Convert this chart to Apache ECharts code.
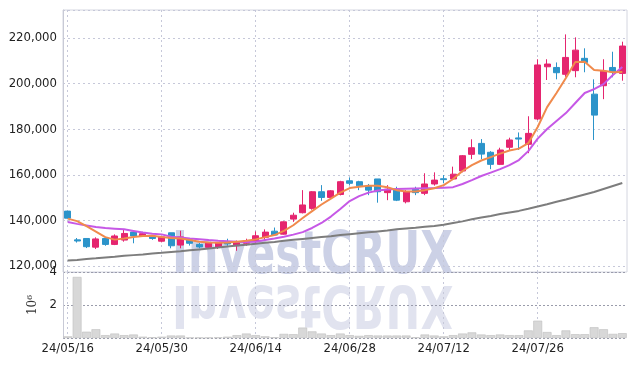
<!DOCTYPE html>
<html><head><meta charset="utf-8">
<script src="https://cdn.jsdelivr.net/npm/echarts@6/dist/echarts.min.js"></script>
<style>html,body{margin:0;padding:0;background:#fff}#c{width:636px;height:366px}</style>
</head><body><div id="c"></div>
<script>
const dates = ['24/05/16','24/05/17','24/05/20','24/05/21','24/05/22','24/05/23','24/05/24','24/05/27','24/05/28','24/05/29',
'24/05/30','24/05/31','24/06/03','24/06/04','24/06/05','24/06/07','24/06/10','24/06/11','24/06/12','24/06/13',
'24/06/14','24/06/17','24/06/18','24/06/19','24/06/20','24/06/21','24/06/24','24/06/25','24/06/26','24/06/27',
'24/06/28','24/07/01','24/07/02','24/07/03','24/07/04','24/07/05','24/07/08','24/07/09','24/07/10','24/07/11',
'24/07/12','24/07/15','24/07/16','24/07/17','24/07/18','24/07/19','24/07/22','24/07/23','24/07/24','24/07/25',
'24/07/26','24/07/29','24/07/30','24/07/31','24/08/01','24/08/02','24/08/05','24/08/06','24/08/07','24/08/08'];

const open = [144100,131500,132100,128300,132100,129500,131400,134900,133200,133200,
130900,134600,129200,131500,129500,128200,128200,130700,128900,130000,
131000,132600,135300,134000,140600,143400,145300,152600,150100,151400,
157400,157000,155100,158200,152200,153700,148200,153700,151900,156000,
158300,158200,161700,169000,173800,169900,164600,172100,176200,173400,
184500,207400,207100,204100,205700,211100,195400,199100,207100,204500];
const close = [141000,131000,128500,131900,129500,133200,134300,133200,134200,132100,
132800,128900,132800,130000,128400,130200,130200,129700,130700,130400,
133300,134900,133600,139400,142300,146800,152600,150100,153000,157000,
156300,155200,153300,152600,153700,148900,152600,152200,156000,157700,
157900,160300,168400,171900,169100,164600,170900,175300,175700,178200,
208200,208600,204800,211500,214700,209300,186200,205500,205200,216500];
const low = [140800,130300,127900,127500,128900,129200,130700,130000,132800,131500,
130400,127800,127800,129000,127800,128000,127500,128900,126700,128900,
129700,131400,133200,133800,139400,143100,144700,148600,149800,151000,
155500,153300,151100,147800,148900,148500,147500,151100,151100,155300,
156300,157700,161100,166900,166900,162500,164300,170900,170900,169500,
184000,201600,201900,203000,202800,205000,175300,193200,202800,201300];
const high = [144200,132300,132100,132600,132100,133900,135800,134900,135000,133600,
133200,134600,135500,132000,130200,130400,130400,132000,131200,132000,
135200,136100,136900,139600,143400,153300,152900,155500,153300,157400,
158900,157400,156000,158200,155500,154800,153300,154800,160700,161100,
159900,163600,168700,175600,175700,170400,171900,176300,178600,185700,
210700,210700,209300,221600,220300,215500,201900,210700,214000,218400];

const maShort = [140800,139700,137500,135100,132700,131600,132100,132700,133200,133300,
132700,132300,132100,131400,130700,130300,130200,130300,130700,131100,
131700,132700,133600,135400,137900,141100,144100,147000,149600,152200,
154200,154800,155200,155200,154600,153300,152700,152700,153300,154100,
155500,158200,161700,164300,166300,167800,169300,170700,171500,173900,
181000,189700,195900,202500,209500,209600,206000,205700,205000,205100];
const maMid = [139300,138500,137800,137100,136700,136400,136100,135400,134700,134200,
133900,132900,132500,132100,131800,131400,131100,130900,130700,130600,
130700,131400,132100,132900,133800,134900,136700,138900,141700,145000,
148500,150700,152200,153100,153600,153800,153900,154000,154100,154200,
154400,154600,156000,157700,159500,161000,162500,164300,166500,170400,
175900,180100,183600,187100,191500,195900,197600,199800,203800,207300];
const maLong = [122400,122700,123100,123400,123800,124100,124500,124800,125100,125500,
125800,126200,126500,126900,127300,127700,128100,128600,129000,129400,
129800,130200,130600,131100,131500,131900,132300,132700,133100,133600,
134000,134400,134800,135200,135600,136100,136500,136800,137200,137600,
138100,138900,139600,140500,141300,142000,142800,143500,144200,145100,
146100,147100,148200,149200,150300,151400,152500,153800,155100,156400];

// volume in millions (axis unit 10^6)
const volume = [0.10,3.70,0.38,0.53,0.17,0.27,0.17,0.21,0.08,0.04,
0.08,0.15,0.15,0.02,0.02,0.02,0.03,0.08,0.17,0.27,
0.17,0.10,0.04,0.25,0.23,0.63,0.40,0.27,0.17,0.27,
0.17,0.13,0.17,0.15,0.15,0.15,0.15,0.04,0.21,0.15,
0.10,0.17,0.27,0.34,0.21,0.17,0.21,0.17,0.17,0.46,
1.05,0.36,0.17,0.46,0.23,0.23,0.65,0.53,0.25,0.29];

const candles = open.map((o, i) => [o, close[i], low[i], high[i]]);
const FONT = '"DejaVu Sans Condensed","Liberation Sans Narrow",sans-serif';
const WM_FONT = 'bold 58px "DejaVu Sans Condensed","Liberation Sans Narrow",sans-serif';
const gridLine = {color: '#c6c8d9', type: [2, 3], width: 1};
const fmt = v => String(v).replace(/\B(?=(\d{3})+(?!\d))/g, ',');

const chart = echarts.init(document.getElementById('c'), null, {renderer: 'canvas'});
chart.setOption({
  animation: false,
  backgroundColor: '#fff',
  grid: [
    {left: 63, right: 9, top: 10, height: 262, show: true, borderColor: '#d4d6e0', borderWidth: 1},
    {left: 63, right: 9, top: 272, height: 66}
  ],
  xAxis: [
    {type: 'category', gridIndex: 0, data: dates, boundaryGap: true,
     axisLine: {show: false}, axisTick: {show: false}, axisLabel: {show: false},
     splitLine: {show: true, interval: 9, alignWithLabel: true, lineStyle: gridLine}},
    {type: 'category', gridIndex: 1, data: dates, boundaryGap: true,
     axisLine: {show: false}, axisTick: {show: false},
     axisLabel: {interval: 9, margin: 4, color: '#222', fontSize: 13, fontFamily: FONT},
     splitLine: {show: true, interval: 9, alignWithLabel: true, lineStyle: gridLine}}
  ],
  yAxis: [
    {type: 'value', gridIndex: 0, min: 117400, max: 232300,
     axisLine: {show: true, lineStyle: {color: '#c8cad6'}}, axisTick: {show: false},
     axisLabel: {margin: 6, color: '#222', fontSize: 13, fontFamily: FONT,
       formatter: v => (v % 20000 === 0 ? fmt(v) : '')},
     splitLine: {show: true, lineStyle: gridLine}},
    {type: 'value', gridIndex: 1, min: 0, max: 4, interval: 2,
     name: '10\u2076', nameLocation: 'middle', nameRotate: 90, nameGap: 20,
     nameTextStyle: {color: '#333', fontSize: 12, fontFamily: '"DejaVu Serif",serif'},
     axisLine: {show: true, lineStyle: {color: '#c8cad6'}}, axisTick: {show: false},
     axisLabel: {margin: 6, color: '#222', fontSize: 13, fontFamily: FONT,
       formatter: v => (v === 0 ? '' : String(v))},
     splitLine: {show: true, lineStyle: {color: '#9a9cab', type: [2, 2]}}}
  ],
  graphic: [
    {type: 'text', x: 172, y: 278, scaleX: 0.82, z: 0, zlevel: 0, silent: true,
     style: {text: 'InvestCRUX', y: -20, verticalAlign: 'middle', font: WM_FONT, fill: '#ccd1e6'}},
    {type: 'text', x: 172, y: 281, scaleX: 0.82, scaleY: -1, z: 0, zlevel: 0, silent: true,
     style: {text: 'InvestCRUX', y: -20, verticalAlign: 'middle', font: WM_FONT, fill: '#e1e3ef'}}
  ],
  series: [
    {type: 'candlestick', xAxisIndex: 0, yAxisIndex: 0, data: candles, barWidth: '68%', z: 5,
     itemStyle: {color: '#e5256f', color0: '#2c94ca', borderColor: '#e5256f', borderColor0: '#2c94ca', borderWidth: 1}},
    {type: 'line', xAxisIndex: 0, yAxisIndex: 0, data: maLong, symbol: 'none', z: 6,
     lineStyle: {color: '#7d7d7d', width: 2}},
    {type: 'line', xAxisIndex: 0, yAxisIndex: 0, data: maMid, symbol: 'none', z: 6,
     lineStyle: {color: '#c658e6', width: 2}},
    {type: 'line', xAxisIndex: 0, yAxisIndex: 0, data: maShort, symbol: 'none', z: 6,
     lineStyle: {color: '#f08a4c', width: 2}},
    {type: 'bar', xAxisIndex: 1, yAxisIndex: 1, data: volume, barCategoryGap: '6%', z: 5,
     itemStyle: {color: '#d8d8d8', borderColor: '#bdbdbd', borderWidth: 0.6}}
  ]
});
</script></body></html>
